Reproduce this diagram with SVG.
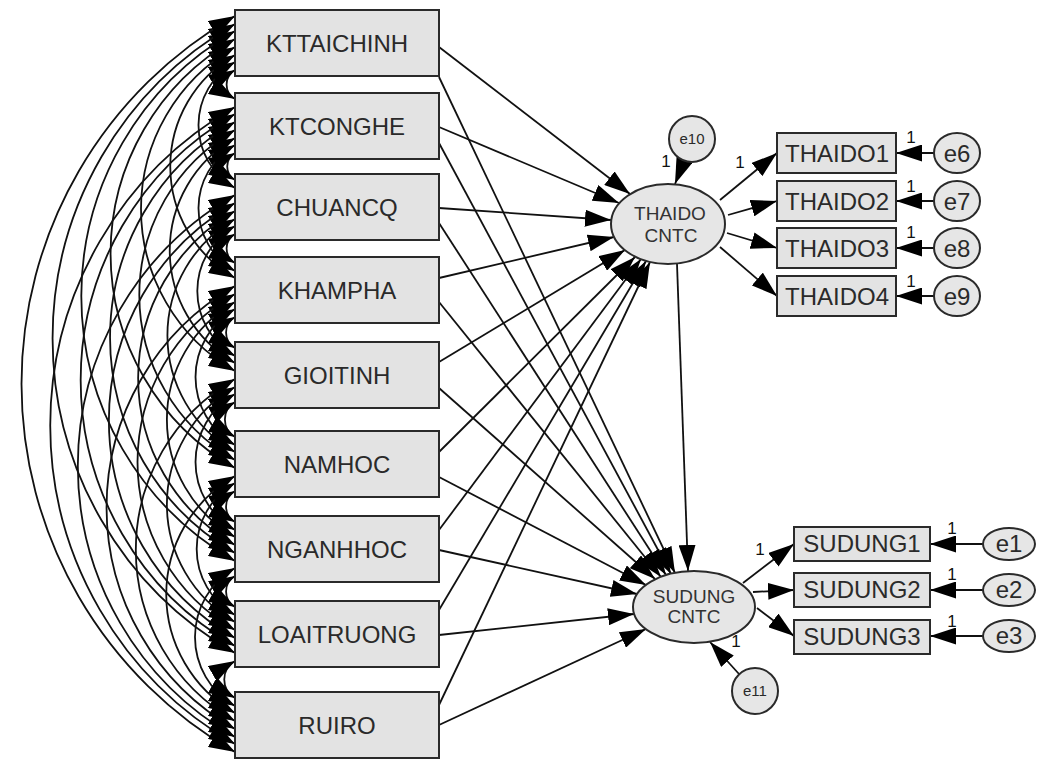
<svg xmlns="http://www.w3.org/2000/svg" width="1046" height="759" viewBox="0 0 1046 759">
<defs>
<marker id="ah" markerUnits="userSpaceOnUse" viewBox="0 0 26 17" markerWidth="26" markerHeight="17" refX="26" refY="8.5" orient="auto-start-reverse"><path d="M0,0 L26,8.5 L0,17 z" fill="#000"/></marker>
<marker id="ca" markerUnits="userSpaceOnUse" viewBox="0 0 26 18" markerWidth="26" markerHeight="18" refX="26" refY="9" orient="auto-start-reverse"><path d="M0,0 L26,9 L0,18 z" fill="#000"/></marker>
</defs>
<style>
.box{fill:#e3e3e3;stroke:#2a2a2a;stroke-width:2}
.lat{fill:#e6e6e6;stroke:#2a2a2a;stroke-width:2}
.bl{font-family:"Liberation Sans",Arial,sans-serif;font-size:24px;fill:#2a2a2a;text-anchor:middle}
.ll{font-family:"Liberation Sans",Arial,sans-serif;font-size:19px;fill:#333;text-anchor:middle}
.el{font-family:"Liberation Sans",Arial,sans-serif;font-size:24px;fill:#2a2a2a;text-anchor:middle}
.es{font-family:"Liberation Sans",Arial,sans-serif;font-size:15px;fill:#2a2a2a;text-anchor:middle}
.one{font-family:"Liberation Sans",Arial,sans-serif;font-size:17px;fill:#111;text-anchor:middle}
.cov{fill:none;stroke:#111;stroke-width:1.8;marker-start:url(#ca);marker-end:url(#ca)}
.reg{fill:none;stroke:#111;stroke-width:1.8;marker-end:url(#ah)}
</style>
<rect width="1046" height="759" fill="#fff"/>
<g id="connectors">
<path class="cov" d="M235,70 A16.7,16.7 0 0 0 235,99"/>
<path class="cov" d="M235,62 A72.6,72.6 0 0 0 235,188"/>
<path class="cov" d="M235,55 A128.4,128.4 0 0 0 235,278"/>
<path class="cov" d="M235,47 A186.6,186.6 0 0 0 235,371"/>
<path class="cov" d="M235,39 A247.1,247.1 0 0 0 235,468"/>
<path class="cov" d="M235,31 A305.3,305.3 0 0 0 235,561"/>
<path class="cov" d="M235,24 A362.3,362.3 0 0 0 235,653"/>
<path class="cov" d="M235,16 A423.9,423.9 0 0 0 235,752"/>
<path class="cov" d="M235,153 A15.6,15.6 0 0 0 235,180"/>
<path class="cov" d="M235,145 A72.6,72.6 0 0 0 235,271"/>
<path class="cov" d="M235,138 A129.6,129.6 0 0 0 235,363"/>
<path class="cov" d="M235,130 A190.1,190.1 0 0 0 235,460"/>
<path class="cov" d="M235,122 A248.3,248.3 0 0 0 235,553"/>
<path class="cov" d="M235,114 A306.4,306.4 0 0 0 235,646"/>
<path class="cov" d="M235,107 A366.9,366.9 0 0 0 235,744"/>
<path class="cov" d="M235,234 A16.7,16.7 0 0 0 235,263"/>
<path class="cov" d="M235,226 A74.9,74.9 0 0 0 235,356"/>
<path class="cov" d="M235,219 A134.2,134.2 0 0 0 235,452"/>
<path class="cov" d="M235,211 A192.4,192.4 0 0 0 235,545"/>
<path class="cov" d="M235,203 A250.6,250.6 0 0 0 235,638"/>
<path class="cov" d="M235,195 A312.2,312.2 0 0 0 235,737"/>
<path class="cov" d="M235,317 A17.9,17.9 0 0 0 235,348"/>
<path class="cov" d="M235,309 A78.3,78.3 0 0 0 235,445"/>
<path class="cov" d="M235,302 A135.4,135.4 0 0 0 235,537"/>
<path class="cov" d="M235,294 A193.5,193.5 0 0 0 235,630"/>
<path class="cov" d="M235,286 A255.2,255.2 0 0 0 235,729"/>
<path class="cov" d="M235,402 A20.2,20.2 0 0 0 235,437"/>
<path class="cov" d="M235,394 A78.3,78.3 0 0 0 235,530"/>
<path class="cov" d="M235,387 A135.4,135.4 0 0 0 235,622"/>
<path class="cov" d="M235,379 A197,197 0 0 0 235,721"/>
<path class="cov" d="M235,491 A17.9,17.9 0 0 0 235,522"/>
<path class="cov" d="M235,483 A76,76 0 0 0 235,615"/>
<path class="cov" d="M235,476 A136.5,136.5 0 0 0 235,713"/>
<path class="cov" d="M235,576 A17.9,17.9 0 0 0 235,607"/>
<path class="cov" d="M235,568 A79.5,79.5 0 0 0 235,706"/>
<path class="cov" d="M235,661 A21.3,21.3 0 0 0 235,698"/>
<path class="reg" d="M439,47 L630,194"/>
<path class="reg" d="M439,127 L619,203"/>
<path class="reg" d="M439,208 L611,220"/>
<path class="reg" d="M439,278 L614,237"/>
<path class="reg" d="M439,362 L625,250"/>
<path class="reg" d="M439,452 L635,257"/>
<path class="reg" d="M439,530 L641,259"/>
<path class="reg" d="M439,610 L646,261"/>
<path class="reg" d="M439,705 L650,262"/>
<path class="reg" d="M439,77 L675,573"/>
<path class="reg" d="M439,143 L671,574"/>
<path class="reg" d="M439,223 L666,575"/>
<path class="reg" d="M439,302 L661,577"/>
<path class="reg" d="M439,388 L655,579"/>
<path class="reg" d="M439,477 L646,585"/>
<path class="reg" d="M439,550 L637,594"/>
<path class="reg" d="M439,635 L634,614"/>
<path class="reg" d="M439,725 L646,629"/>
<path class="reg" d="M677,264 L688,571"/>
<path class="reg" d="M684,161 L675,184"/>
<path class="reg" d="M739,674 L710,642"/>
<path class="reg" d="M720,200 L777,153"/>
<path class="reg" d="M728,215 L777,201"/>
<path class="reg" d="M727,233 L777,248"/>
<path class="reg" d="M720,247 L777,296"/>
<path class="reg" d="M934,153 L896,153"/>
<path class="reg" d="M934,201 L896,201"/>
<path class="reg" d="M934,248 L896,248"/>
<path class="reg" d="M934,296 L896,296"/>
<path class="reg" d="M743,583 L794,544"/>
<path class="reg" d="M753,592 L794,590"/>
<path class="reg" d="M757,608 L794,636"/>
<path class="reg" d="M983,544 L930,544"/>
<path class="reg" d="M983,590 L930,590"/>
<path class="reg" d="M983,636 L930,636"/>
<text class="one" x="666" y="167">1</text>
<text class="one" x="740" y="168">1</text>
<text class="one" x="911" y="143">1</text>
<text class="one" x="911" y="192">1</text>
<text class="one" x="911" y="238">1</text>
<text class="one" x="911" y="287">1</text>
<text class="one" x="760" y="555">1</text>
<text class="one" x="952" y="534">1</text>
<text class="one" x="952" y="580">1</text>
<text class="one" x="952" y="627">1</text>
<text class="one" x="736" y="647">1</text>
</g>
<g id="KTTAICHINH"><rect class="box" x="235" y="10" width="204" height="66"/><text class="bl" x="337" y="52">KTTAICHINH</text></g>
<g id="KTCONGHE"><rect class="box" x="235" y="93" width="204" height="66"/><text class="bl" x="337" y="135">KTCONGHE</text></g>
<g id="CHUANCQ"><rect class="box" x="235" y="174" width="204" height="66"/><text class="bl" x="337" y="216">CHUANCQ</text></g>
<g id="KHAMPHA"><rect class="box" x="235" y="257" width="204" height="66"/><text class="bl" x="337" y="299">KHAMPHA</text></g>
<g id="GIOITINH"><rect class="box" x="235" y="342" width="204" height="66"/><text class="bl" x="337" y="384">GIOITINH</text></g>
<g id="NAMHOC"><rect class="box" x="235" y="431" width="204" height="66"/><text class="bl" x="337" y="473">NAMHOC</text></g>
<g id="NGANHHOC"><rect class="box" x="235" y="516" width="204" height="66"/><text class="bl" x="337" y="558">NGANHHOC</text></g>
<g id="LOAITRUONG"><rect class="box" x="235" y="601" width="204" height="66"/><text class="bl" x="337" y="643">LOAITRUONG</text></g>
<g id="RUIRO"><rect class="box" x="235" y="692" width="204" height="66"/><text class="bl" x="337" y="734">RUIRO</text></g>
<g id="THAIDO_CNTC"><ellipse class="lat" cx="668" cy="224" rx="57" ry="40"/><text class="ll" x="670" y="220">THAIDO</text><text class="ll" x="671" y="242">CNTC</text></g>
<g id="SUDUNG_CNTC"><ellipse class="lat" cx="694" cy="607" rx="61" ry="36"/><text class="ll" x="694" y="603">SUDUNG</text><text class="ll" x="694" y="623">CNTC</text></g>
<g id="e10"><circle class="lat" cx="692" cy="139" r="23"/><text class="es" x="692" y="144">e10</text></g>
<g id="e11"><circle class="lat" cx="755" cy="691" r="23"/><text class="es" x="755" y="696">e11</text></g>
<g id="THAIDO1"><rect class="box" x="777" y="133" width="119" height="40"/><text class="bl" x="837" y="162">THAIDO1</text></g>
<g id="THAIDO2"><rect class="box" x="777" y="181" width="119" height="40"/><text class="bl" x="837" y="210">THAIDO2</text></g>
<g id="THAIDO3"><rect class="box" x="777" y="228" width="119" height="40"/><text class="bl" x="837" y="257">THAIDO3</text></g>
<g id="THAIDO4"><rect class="box" x="777" y="276" width="119" height="40"/><text class="bl" x="837" y="305">THAIDO4</text></g>
<g id="e6"><ellipse class="lat" cx="957" cy="153" rx="23" ry="20"/><text class="el" x="957" y="162">e6</text></g>
<g id="e7"><ellipse class="lat" cx="957" cy="201" rx="23" ry="20"/><text class="el" x="957" y="210">e7</text></g>
<g id="e8"><ellipse class="lat" cx="957" cy="248" rx="23" ry="20"/><text class="el" x="957" y="257">e8</text></g>
<g id="e9"><ellipse class="lat" cx="957" cy="296" rx="23" ry="20"/><text class="el" x="957" y="305">e9</text></g>
<g id="SUDUNG1"><rect class="box" x="794" y="527" width="136" height="34"/><text class="bl" x="862" y="552">SUDUNG1</text></g>
<g id="SUDUNG2"><rect class="box" x="794" y="573" width="136" height="34"/><text class="bl" x="862" y="598">SUDUNG2</text></g>
<g id="SUDUNG3"><rect class="box" x="794" y="620" width="136" height="34"/><text class="bl" x="862" y="645">SUDUNG3</text></g>
<g id="e1"><ellipse class="lat" cx="1009" cy="544" rx="26" ry="16"/><text class="el" x="1009" y="552">e1</text></g>
<g id="e2"><ellipse class="lat" cx="1009" cy="590" rx="26" ry="16"/><text class="el" x="1009" y="598">e2</text></g>
<g id="e3"><ellipse class="lat" cx="1009" cy="636" rx="26" ry="16"/><text class="el" x="1009" y="644">e3</text></g>
</svg>
